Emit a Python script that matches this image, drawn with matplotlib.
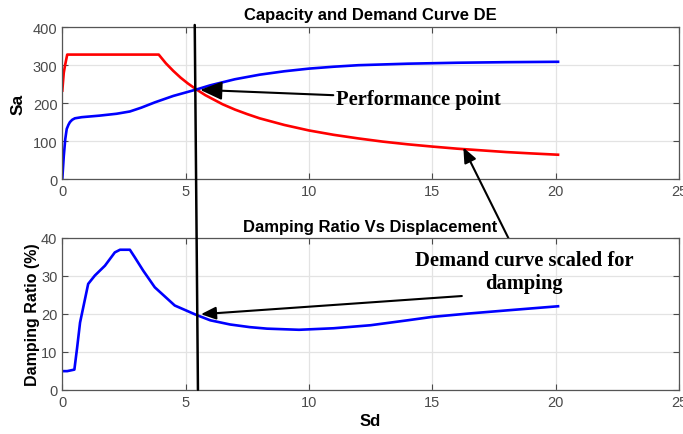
import numpy as np
import matplotlib.pyplot as plt
from matplotlib.patches import ConnectionPatch

# capacity curve (Sd, Sa)
cap_sd = [0, 0.06, 0.12, 0.18, 0.25, 0.31, 0.4, 0.51, 0.79, 1.5, 2.2, 2.74, 3.2, 3.75, 4.5,
          5.44, 6, 6.5, 7, 7.5, 8, 9, 10, 11, 12, 14, 16, 18, 20.1]
cap_sa = [0, 60, 105, 132, 143, 150, 156, 160, 163, 167, 172, 178, 188, 202, 219,
          236, 247, 255, 263, 269, 275, 284, 291, 296, 300, 304, 306.5, 308, 309]

# demand curve scaled for damping
dem_sd = [0, 0.06, 0.11, 0.2, 3.91, 4.2, 4.5, 4.8, 5.1, 5.44, 5.8, 6.5, 7, 7.5, 8, 9, 10,
          11, 12, 13, 14, 15, 16, 17, 18, 19, 20.1]
dem_sa = [233, 280, 299, 328, 328, 305, 285, 267, 251.5, 236, 221, 197, 183, 171, 160, 142.5, 128,
          116.5, 107, 98.5, 91.5, 85.5, 80, 75.5, 71, 67.5, 64]

# damping ratio vs displacement
damp_sd = [0, 0.2, 0.49, 0.6, 0.72, 1.05, 1.32, 1.73, 2.13, 2.34, 2.74, 2.94, 3.28, 3.75, 4.56,
           5.44, 6.0, 6.8, 7.6, 8.3, 9.6, 11, 12.5, 14, 15, 16.5, 18, 20.1]
damp_pct = [4.9, 4.9, 5.3, 11, 17.7, 27.9, 30.1, 32.7, 36.2, 36.9, 36.9, 34.9, 31.4, 27.0, 22.2,
            19.7, 18.3, 17.2, 16.5, 16.1, 15.8, 16.2, 17, 18.3, 19.2, 20.1, 20.9, 22.0]

perf_sd = 5.44
perf_sa = 236

xticks = [0, 5, 10, 15, 20, 25]
sa_ticks = [0, 100, 200, 300, 400]
damp_ticks = [0, 10, 20, 30, 40]

plt.rcParams['font.family'] = ['Liberation Sans', 'DejaVu Sans']

fig = plt.figure(figsize=(6.83, 4.35), dpi=100)
ax1 = fig.add_axes([0.0912, 0.5862, 0.9028, 0.3488])
ax2 = fig.add_axes([0.0912, 0.1018, 0.9028, 0.3488])

tick_gray = '#4a4a4a'
for ax in (ax1, ax2):
    ax.set_xlim(0, 25)
    ax.set_xticks(xticks)
    ax.grid(True, color='#e3e3e3', linewidth=0.9)
    ax.set_axisbelow(True)
    ax.tick_params(direction='in', top=True, right=True, length=4,
                   colors=tick_gray, labelsize=10.5, width=0.8)
    for sp in ax.spines.values():
        sp.set_color('#555555')
        sp.set_linewidth(0.9)

ax1.plot(dem_sd, dem_sa, color='#ff0000', linewidth=1.9)
ax1.plot(cap_sd, cap_sa, color='#0000ff', linewidth=1.9)
ax1.set_ylim(0, 400)
ax1.set_yticks(sa_ticks)
ax1.set_title('Capacity and Demand Curve DE', fontsize=12, fontweight='bold', pad=6)
ax1.set_ylabel('Sa', fontsize=12.5, fontweight='bold', labelpad=5)

ax2.plot(damp_sd, damp_pct, color='#0000ff', linewidth=1.9)
ax2.set_ylim(0, 40)
ax2.set_yticks(damp_ticks)
ax2.set_title('Damping Ratio Vs Displacement', fontsize=12, fontweight='bold', pad=5)
ax2.set_ylabel('Damping Ratio (%)', fontsize=11.5, fontweight='bold', labelpad=1)
ax2.set_xlabel('Sd', fontsize=12, fontweight='bold', labelpad=3)

# vertical marker through the performance point, across both panels
vline = ConnectionPatch(xyA=(5.37, 406), coordsA=ax1.transData,
                        xyB=(5.50, 0), coordsB=ax2.transData,
                        color='black', linewidth=1.8)
fig.add_artist(vline)

serif = dict(family=['Liberation Serif', 'DejaVu Serif'], fontweight='bold', fontsize=14.8)
head = dict(arrowstyle='-|>,head_length=0.9,head_width=0.38', color='black',
            linewidth=1.5, shrinkA=0, shrinkB=0)

ax1.annotate('Performance point', xy=(perf_sd + 0.15, perf_sa - 1), xytext=(11.1, 212),
             va='center', ha='left', arrowprops=head, annotation_clip=False, **serif)

ax1.annotate('', xy=(16.26, 83), xytext=(18.1, 39.8), textcoords=ax2.transData,
             arrowprops=head, annotation_clip=False)
ax2.text(18.73, 31.1, 'Demand curve scaled for\ndamping', ha='center', va='center',
         linespacing=1.2, **serif)

ax2.annotate('', xy=(5.62, 19.9), xytext=(16.2, 24.7),
             arrowprops=head, annotation_clip=False)

fig.savefig('out.png', dpi=100)
